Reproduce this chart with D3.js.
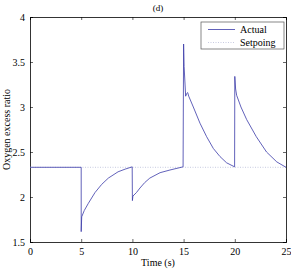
<!DOCTYPE html>
<html>
<head>
<meta charset="utf-8">
<script src="https://cdn.jsdelivr.net/npm/d3@7"></script>
<style>
  body { margin: 0; background: #fff; }
  text { font-family: "Liberation Serif", "Times New Roman", serif; }
</style>
</head>
<body>
<div id="chart"></div>
<script>
// data
var timeActual = [0, 5.0, 5.0, 5.05, 5.3, 5.7, 6.35, 7.0, 7.65, 8.6, 9.3, 9.98,
  10.0, 10.05, 10.4, 10.74, 11.2, 11.7, 12.7, 13.67, 14.95,
  15.0, 15.05, 15.2, 15.3, 15.4, 15.5, 15.95, 16.6, 17.25, 17.9, 18.55, 19.2, 19.98,
  20.0, 20.08, 20.18, 20.6, 21.16, 22.1, 23.1, 24.1, 25.0];
var valueActual = [2.33, 2.33, 1.615, 1.78, 1.85, 1.93, 2.05, 2.14, 2.21, 2.28, 2.31, 2.335,
  1.96, 2.01, 2.05, 2.10, 2.16, 2.21, 2.27, 2.30, 2.335,
  3.70, 3.45, 3.12, 3.15, 3.16, 3.12, 3.00, 2.82, 2.67, 2.54, 2.45, 2.38, 2.335,
  3.34, 3.20, 3.13, 3.00, 2.86, 2.67, 2.50, 2.39, 2.33];
var timeSetpoint = [0, 25];
var valueSetpoint = [2.33, 2.33];
var xTicks = [0, 5, 10, 15, 20, 25];
var yTicks = [1.5, 2, 2.5, 3, 3.5, 4];
var legendLabels = ["Actual", "Setpoing"];

var width = 291,
    height = 270,
    margin = {top: 17, right: 5, bottom: 28, left: 30},
    w = width - margin.left - margin.right,
    h = height - margin.top - margin.bottom;

var svg = d3.select("#chart").append("svg")
    .attr("width", width)
    .attr("height", height);

var g = svg.append("g")
    .attr("transform", "translate(" + margin.left + "," + margin.top + ")");

var x = d3.scaleLinear().domain([0, 25]).range([0, w]);
var y = d3.scaleLinear().domain([1.5, 4]).range([h, 0]);

// axes, MATLAB style: ticks inward on all four sides
g.append("g")
    .attr("transform", "translate(0," + h + ")")
    .call(d3.axisBottom(x).tickValues(xTicks).tickSize(-3).tickPadding(6).tickFormat(d3.format("d")));
g.append("g")
    .call(d3.axisTop(x).tickValues(xTicks).tickSize(-3).tickFormat(""));
g.append("g")
    .call(d3.axisLeft(y).tickValues(yTicks).tickSize(-3).tickPadding(5).tickFormat(d3.format("")));
g.append("g")
    .attr("transform", "translate(" + w + ",0)")
    .call(d3.axisRight(y).tickValues(yTicks).tickSize(-3).tickFormat(""));

g.selectAll(".domain").attr("stroke", "#000").attr("stroke-width", 0.8);
g.selectAll(".tick line").attr("stroke", "#000").attr("stroke-width", 0.6);
g.selectAll(".tick text")
    .style("font-family", "Liberation Serif, serif")
    .style("font-size", "10px")
    .attr("fill", "#000");

var line = d3.line()
    .x(function(d) { return x(d[0]); })
    .y(function(d) { return y(d[1]); });

// setpoint
g.append("path")
    .datum(d3.zip(timeSetpoint, valueSetpoint))
    .attr("d", line)
    .attr("fill", "none")
    .attr("stroke", "#b9bcd8")
    .attr("stroke-width", 0.8)
    .attr("stroke-dasharray", "1,1.5");

// actual
g.append("path")
    .datum(d3.zip(timeActual, valueActual))
    .attr("d", line)
    .attr("fill", "none")
    .attr("stroke", "#3a3aa8")
    .attr("stroke-width", 0.8);

// legend
var lg = g.append("g").attr("transform", "translate(" + (w - 85) + ",5)");
lg.append("rect")
    .attr("width", 83).attr("height", 27)
    .attr("fill", "#fff")
    .attr("stroke", "#555")
    .attr("stroke-width", 0.7);
lg.append("line")
    .attr("x1", 7).attr("x2", 34).attr("y1", 7.5).attr("y2", 7.5)
    .attr("stroke", "#3a3aa8").attr("stroke-width", 0.8);
lg.append("line")
    .attr("x1", 7).attr("x2", 34).attr("y1", 20.5).attr("y2", 20.5)
    .attr("stroke", "#b9bcd8").attr("stroke-width", 0.8)
    .attr("stroke-dasharray", "1,1.5");
lg.selectAll("text.lab")
    .data(legendLabels)
    .enter().append("text")
    .attr("x", 39)
    .attr("y", function(d, i) { return 11 + i * 13; })
    .style("font-size", "10px")
    .text(function(d) { return d; });

// title and axis labels
svg.append("text")
    .attr("x", margin.left + w / 2)
    .attr("y", 11)
    .attr("text-anchor", "middle")
    .style("font-size", "9px")
    .text("(d)");

svg.append("text")
    .attr("x", margin.left + w / 2)
    .attr("y", 266)
    .attr("text-anchor", "middle")
    .style("font-size", "10px")
    .text("Time (s)");

svg.append("text")
    .attr("transform", "translate(10," + (margin.top + h / 2) + ") rotate(-90)")
    .attr("text-anchor", "middle")
    .style("font-size", "10px")
    .text("Oxygen excess ratio");
</script>
</body>
</html>
